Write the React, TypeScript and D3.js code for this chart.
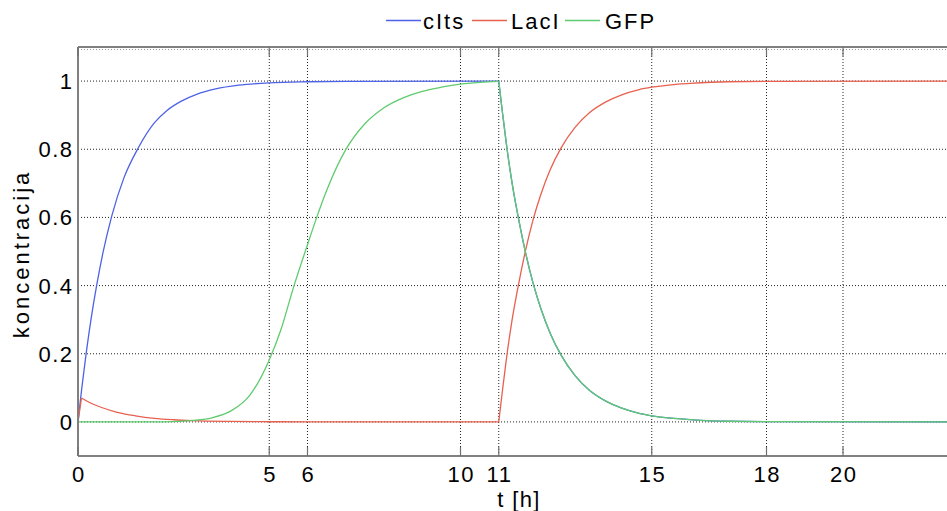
import React from "react";
import * as d3 from "d3";

// ---- data ----
const xTicks = [0, 5, 6, 10, 11, 15, 18, 20];
const yTicks = [0, 0.2, 0.4, 0.6, 0.8, 1];
const yTickLabels = ["0", "0.2", "0.4", "0.6", "0.8", "1"];

// cIts: rise phase (0..11 h)
const tBlueRise = [0, 0.1, 0.21, 0.35, 0.49, 0.65, 0.88, 1.2, 1.58, 2.0, 2.32, 2.7, 3.1, 3.6, 4.2, 5.0, 6.0, 7.0, 11];
const vBlueRise = [0, 0.1, 0.198, 0.308, 0.402, 0.495, 0.603, 0.716, 0.805, 0.878, 0.913, 0.941, 0.961, 0.977, 0.988, 0.995, 0.998, 0.999, 1.0];

// cIts / GFP decay phase (11..24 h), the two curves coincide
const tDecay = [11, 11.1, 11.2, 11.35, 11.52, 11.7, 11.89, 12.1, 12.35, 12.63, 13.0, 13.37, 13.8, 14.2, 14.67, 15, 15.5, 16, 17, 18, 24];
const vDecay = [1, 0.905, 0.815, 0.7, 0.595, 0.497, 0.41, 0.333, 0.259, 0.196, 0.135, 0.093, 0.061, 0.041, 0.025, 0.018, 0.011, 0.007, 0.002, 0.001, 0];

// LacI: initial blip (0..11 h)
const tRedUp = [0, 0.09];
const vRedUp = [0, 0.07];
const tRedLow = [0.09, 0.3, 0.6, 1.0, 1.5, 2.0, 2.5, 3.0, 4.0, 5.0, 6.0, 11];
const vRedLow = [0.07, 0.057, 0.043, 0.029, 0.018, 0.0105, 0.0064, 0.0038, 0.0014, 0.0005, 0, 0];

// LacI: rise after 11 h
const tRedRise = [11, 11.1, 11.2, 11.35, 11.52, 11.7, 11.89, 12.1, 12.35, 12.63, 13.0, 13.37, 13.8, 14.2, 14.67, 15, 15.5, 16, 17, 18, 24];
const vRedRise = [0, 0.095, 0.185, 0.3, 0.405, 0.503, 0.59, 0.667, 0.741, 0.804, 0.865, 0.907, 0.939, 0.959, 0.975, 0.982, 0.989, 0.993, 0.998, 0.999, 1];

// GFP: rise phase (0..11 h)
const tGreenRise = [0, 2.0, 2.5, 3.0, 3.5, 4.0, 4.5, 5.0, 5.3, 5.64, 6.0, 6.25, 6.5, 7.0, 7.5, 8.0, 8.5, 9.0, 9.5, 10, 10.5, 11];
const vGreenRise = [0, 0, 0.001, 0.0045, 0.0121, 0.0323, 0.0794, 0.182, 0.269, 0.397, 0.52, 0.603, 0.679, 0.799, 0.875, 0.922, 0.951, 0.97, 0.982, 0.991, 0.996, 0.999];

const seriesNames = ["cIts", "LacI", "GFP"];
const seriesColors = ["#4d62e6", "#e8614f", "#5fcb6e"];

// ---- layout ----
const W = 947;
const H = 511;
const left = 78;
const top = 47;
const bottom = 456;
const xMax = 24;
const unit = 38.25;
const right = left + xMax * unit;

const FONT = "'Liberation Sans', Arial, Helvetica, sans-serif";
const FS = 22;

export default function App() {
  const x = d3.scaleLinear().domain([0, xMax]).range([left, right]);
  const y = d3.scaleLinear().domain([-0.1, 1.1]).range([bottom, top]);

  const line = d3
    .line<[number, number]>()
    .x((d) => x(d[0]))
    .y((d) => y(d[1]))
    .curve(d3.curveMonotoneX);

  const zip = (t: number[], v: number[]) => t.map((ti, i) => [ti, v[i]] as [number, number]);

  const segments: { name: string; color: string; d: string }[] = [
    { name: "cIts", color: seriesColors[0], d: line(zip(tBlueRise, vBlueRise)) || "" },
    { name: "cIts", color: seriesColors[0], d: line(zip(tDecay, vDecay)) || "" },
    { name: "LacI", color: seriesColors[1], d: line(zip(tRedUp, vRedUp)) || "" },
    { name: "LacI", color: seriesColors[1], d: line(zip(tRedLow, vRedLow)) || "" },
    { name: "LacI", color: seriesColors[1], d: line(zip(tRedRise, vRedRise)) || "" },
    { name: "GFP", color: seriesColors[2], d: line(zip(tGreenRise, vGreenRise)) || "" },
    { name: "GFP", color: seriesColors[2], d: line(zip(tDecay, vDecay)) || "" },
  ];

  const legendX = [386, 472, 565];
  const legendTextX = [423, 511, 605];

  return (
    <svg
      width={W}
      height={H}
      style={{ position: "absolute", left: 0, top: 0, background: "#fff", overflow: "hidden" }}
      fontFamily={FONT}
    >
      <rect x={0} y={0} width={W} height={H} fill="#fff" />
      <defs>
        <clipPath id="plotClip">
          <rect x={left} y={top} width={right - left} height={bottom - top} />
        </clipPath>
      </defs>

      {/* grid */}
      {xTicks.map((t) => (
        <line
          key={"gx" + t}
          x1={x(t)}
          x2={x(t)}
          y1={top}
          y2={bottom}
          stroke="#222"
          strokeWidth={1}
          strokeDasharray="1,2"
        />
      ))}
      {yTicks.map((v) => (
        <line
          key={"gy" + v}
          x1={left}
          x2={right}
          y1={y(v)}
          y2={y(v)}
          stroke="#222"
          strokeWidth={1}
          strokeDasharray="1,2"
        />
      ))}
      <line x1={left} x2={right} y1={top + 2.5} y2={top + 2.5} stroke="#999" strokeWidth={1} strokeDasharray="1,2" />

      {/* curves */}
      <g clipPath="url(#plotClip)">
        {segments.map((s, i) => (
          <path key={i} d={s.d} fill="none" stroke={s.color} strokeWidth={1.3} />
        ))}
      </g>

      {/* axes box */}
      <line x1={left} x2={left} y1={top} y2={bottom} stroke="#808080" strokeWidth={2} />
      <line x1={left} x2={right} y1={bottom} y2={bottom} stroke="#808080" strokeWidth={2} />
      <line x1={left} x2={right} y1={top} y2={top} stroke="#808080" strokeWidth={2} />

      {/* x ticks */}
      {xTicks.map((t) => (
        <g key={"tx" + t}>
          <line x1={x(t)} x2={x(t)} y1={bottom} y2={bottom - 9} stroke="#707070" strokeWidth={1.2} />
          <line x1={x(t)} x2={x(t)} y1={top} y2={top + 9} stroke="#707070" strokeWidth={1.2} />
          <text x={x(t) + 0.75} y={482} textAnchor="middle" fontSize={FS} letterSpacing={1.5} fill="#000">
            {t}
          </text>
        </g>
      ))}

      {/* y tick labels */}
      {yTicks.map((v, i) => (
        <text
          key={"ty" + v}
          x={73.5}
          y={y(v) + 8}
          textAnchor="end"
          fontSize={FS}
          letterSpacing={1.5}
          fill="#000"
        >
          {yTickLabels[i]}
        </text>
      ))}

      {/* axis labels */}
      <text x={519} y={507} textAnchor="middle" fontSize={FS} letterSpacing={1.4} fill="#000">
        t [h]
      </text>
      <text
        transform={`translate(29, 254) rotate(-90)`}
        textAnchor="middle"
        fontSize={FS}
        letterSpacing={3}
        fill="#000"
      >
        koncentracija
      </text>

      {/* legend */}
      {seriesNames.map((n, i) => (
        <g key={"lg" + n}>
          <line
            x1={legendX[i]}
            x2={legendX[i] + 35}
            y1={20.5}
            y2={20.5}
            stroke={seriesColors[i]}
            strokeWidth={1.3}
          />
          <text x={legendTextX[i]} y={28.5} fontSize={FS} letterSpacing={2} fill="#000">
            {n}
          </text>
        </g>
      ))}
    </svg>
  );
}
